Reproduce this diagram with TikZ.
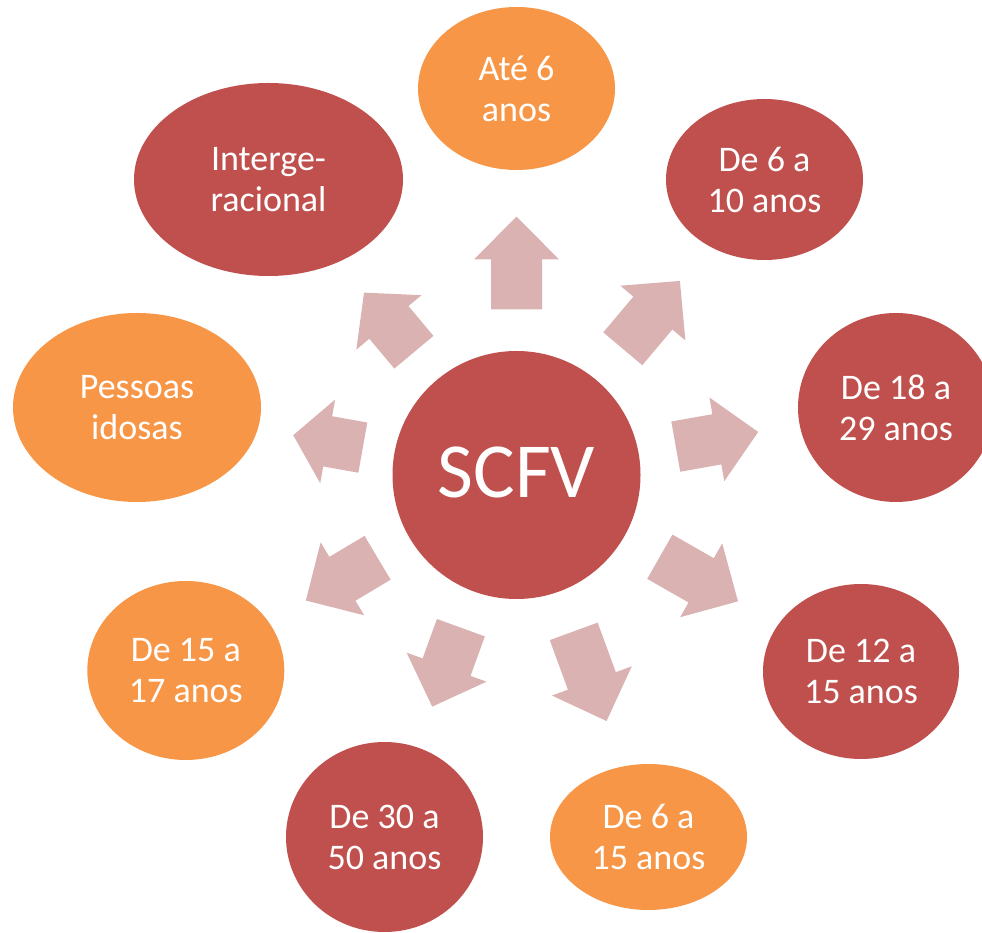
\documentclass[tikz,border=0pt]{standalone}
\usepackage{fontspec}
\setmainfont{Carlito}
\usetikzlibrary{shapes.geometric}
\definecolor{redc}{HTML}{C0504D}
\definecolor{orangec}{HTML}{F79646}
\definecolor{arrowc}{HTML}{DBB2B2}
\tikzset{
  bubble/.style={ellipse, inner sep=0pt, outer sep=0pt, draw=none},
  redb/.style={bubble, fill=redc},
  orangeb/.style={bubble, fill=orangec},
  lbl/.style={text=white, align=center, inner sep=0pt, font=\fontsize{36}{41}\selectfont},
  blockarrow/.style={fill=arrowc, draw=none}
}
% #1 centre node, #2 angle, #3 tail distance, #4 tip distance, #5 head length
\newcommand\blockarr[5]{%
  \begin{scope}[shift={(#1)}, rotate=#2]
    \fill[blockarrow] (#3,-25.5) -- ({#4-#5},-25.5) -- ({#4-#5},-42.5) -- (#4,0)
      -- ({#4-#5},42.5) -- ({#4-#5},25.5) -- (#3,25.5) -- cycle;
  \end{scope}}
\begin{document}
\begin{tikzpicture}[x=1pt, y=1pt]
\useasboundingbox (0,0) rectangle (982,932);
\clip (0,0) rectangle (982,932);
% centre
\node[redb, circle, minimum size=248pt] (c) at (516.5,457) {};
\node[text=white, inner sep=0pt, font=\fontsize{78}{90}\selectfont] (ct) at ([yshift=3pt]c.center) {SCFV};
% outer bubbles
\node[orangeb, minimum width=197pt, minimum height=163pt] (e1) at (516.5,843.5) {};
\node[redb, minimum width=197pt, minimum height=161pt] (e2) at (764.5,752.5) {};
\node[redb, minimum width=196pt, minimum height=189pt] (e3) at (896,524.5) {};
\node[redb, minimum width=196pt, minimum height=175pt] (e4) at (861,260.5) {};
\node[orangeb, minimum width=197pt, minimum height=146pt] (e5) at (648.5,95) {};
\node[redb, minimum width=197pt, minimum height=190pt] (e6) at (384.5,95) {};
\node[orangeb, minimum width=197pt, minimum height=179pt] (e7) at (185.8,261.5) {};
\node[orangeb, minimum width=248pt, minimum height=189pt] (e8) at (137,524.5) {};
\node[redb, minimum width=269pt, minimum height=193pt] (e9) at (268.5,752.5) {};
% labels
\node[lbl] (t1) at (e1) {Até 6\\anos};
\node[lbl] (t2) at (e2) {De 6 a\\10 anos};
\node[lbl] (t3) at (e3) {De 18 a\\29 anos};
\node[lbl] (t4) at (e4) {De 12 a\\15 anos};
\node[lbl] (t5) at (e5) {De 6 a\\15 anos};
\node[lbl] (t6) at (e6) {De 30 a\\50 anos};
\node[lbl] (t7) at (e7) {De 15 a\\17 anos};
\node[lbl] (t8) at (e8) {Pessoas\\idosas};
\node[lbl] (t9) at (e9) {Interge-\\racional};
% arrows
\blockarr{c}{90}{165.7}{258.3}{42.6}
\blockarr{c}{49.9}{165}{253.7}{42}
\blockarr{c}{10.1}{161.8}{245.5}{42}
\blockarr{c}{-29.7}{165}{255}{42.4}
\blockarr{c}{-69.9}{166.5}{262}{42.7}
\blockarr{c}{-110}{162.5}{246.5}{42}
\blockarr{c}{-149.2}{161.7}{245.2}{42.5}
\blockarr{c}{169.9}{156.1}{226.8}{35}
\blockarr{c}{129.9}{160}{237.7}{38.8}
\end{tikzpicture}
\end{document}
